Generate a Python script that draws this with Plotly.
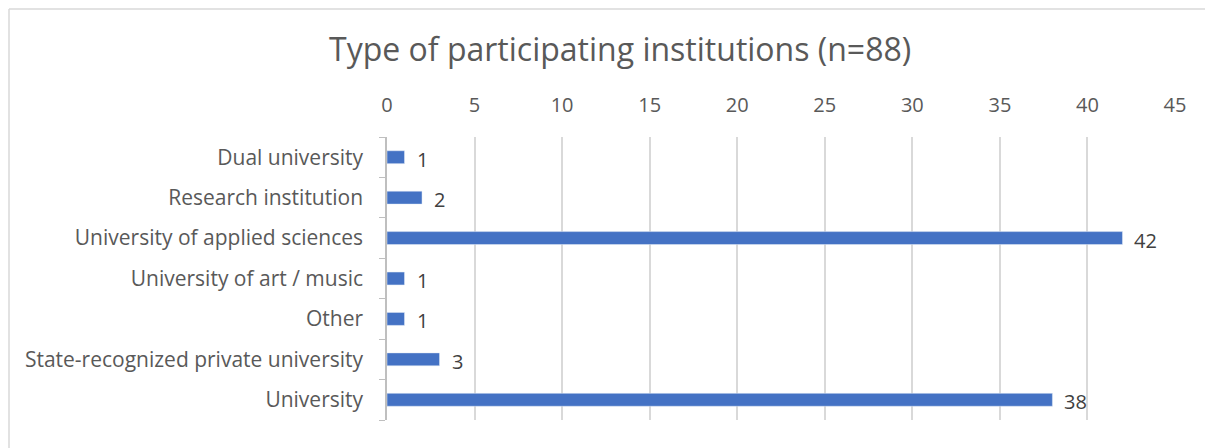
import plotly.graph_objects as go

categories = [
    "University",
    "State-recognized private university",
    "Other",
    "University of art / music",
    "University of applied sciences",
    "Research institution",
    "Dual university",
]
counts = [38, 3, 1, 1, 42, 2, 1]
x_ticks = [0, 5, 10, 15, 20, 25, 30, 35, 40, 45]

# the page puts the figure 8px in from the top-left corner,
# so keep it 8px smaller to avoid scrollbars
W, H = 1205, 440
L, R, T, B = 379, 38, 129, 28

fig = go.Figure(go.Bar(
    x=counts, y=categories, orientation="h",
    marker_color="#4472C4", width=0.32,
))

# value labels next to the bars
for c, v in zip(categories, counts):
    fig.add_annotation(x=v, y=c, text=str(v), showarrow=False,
                       xanchor="left", xshift=10, yshift=-2,
                       font=dict(size=20, color="#404040"))

# light frame; only its top and left edges fall inside the window
pw, ph = W - L - R, H - T - B
left, top = (1 - L) / pw, 1 + (T - 1) / ph
frame = dict(color="#d9d9d9", width=1.5)
fig.add_shape(type="line", xref="paper", yref="paper",
              x0=left, x1=1 + R / pw, y0=top, y1=top, line=frame)
fig.add_shape(type="line", xref="paper", yref="paper",
              x0=left, x1=left, y0=top, y1=-B / ph, line=frame)

fig.update_layout(
    width=W, height=H,
    margin=dict(l=L, r=R, t=T, b=B, autoexpand=False),
    paper_bgcolor="white", plot_bgcolor="white",
    font=dict(family="Open Sans, Lato, sans-serif", color="#595959", size=20),
    title=dict(text="Type of participating institutions (n=88)",
               x=0.508, xanchor="center", y=0.904, yanchor="middle",
               font=dict(size=32, color="#595959")),
    showlegend=False,
)
fig.update_xaxes(side="top", range=[0, 45], tickvals=x_ticks,
                 showgrid=True, gridcolor="#d9d9d9", gridwidth=1.5,
                 zeroline=False, showline=False, ticks="",
                 ticklabelstandoff=20, automargin=False,
                 tickfont=dict(size=20, color="#595959"))
fig.update_yaxes(showline=True, linecolor="#bfbfbf", linewidth=1.5,
                 ticks="outside", tickson="boundaries", ticklen=6,
                 tickcolor="#bfbfbf", showgrid=False,
                 ticklabelstandoff=18, automargin=False,
                 tickfont=dict(size=21, color="#595959"))

fig.write_html("out.html")
